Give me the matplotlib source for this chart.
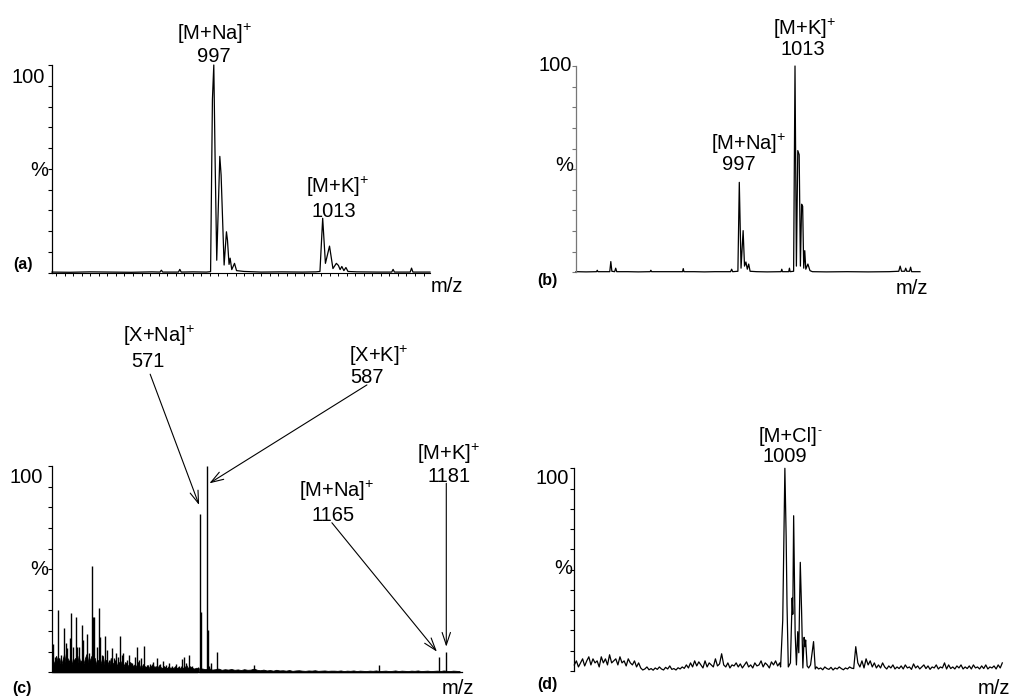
import numpy as np
import matplotlib
matplotlib.use('Agg')
import matplotlib.pyplot as plt

plt.rcParams['font.family'] = ['Liberation Sans', 'DejaVu Sans']
plt.rcParams['mathtext.fontset'] = 'custom'
plt.rcParams['mathtext.rm'] = 'Liberation Sans'
plt.rcParams['mathtext.it'] = 'Liberation Sans:italic'
plt.rcParams['mathtext.bf'] = 'Liberation Sans:bold'

# ---------------- data ----------------
# (a) profile spectrum
a_mz = [973.4, 976, 979, 982, 985, 988, 989.2, 989.4, 989.6, 991.9, 992.1, 992.3, 994, 996.0,
        996.6, 996.87, 997.07, 997.27, 997.5, 997.95, 998.14, 998.58, 998.92, 999.07, 999.3,
        999.46, 999.7, 1000.1, 1000.4, 1001.5, 1004, 1007, 1010, 1012.0, 1012.6, 1013.0, 1013.4,
        1014.0, 1014.5, 1015.0, 1015.3, 1015.55, 1015.8, 1016.1, 1016.4, 1016.7, 1018, 1021,
        1023.1, 1023.3, 1023.5, 1025.8, 1026.0, 1026.2, 1028.7]
a_int = [0.3, 0.2, 0.4, 0.3, 0.2, 0.4, 0.3, 1.2, 0.3, 0.3, 1.6, 0.3, 0.4, 0.3,
         0.5, 83.5, 100, 52.7, 6, 56, 47, 3.7, 19.7, 15.7, 4,
         7, 1.5, 4.5, 1, 0.6, 0.3, 0.4, 0.3, 0.4, 0.6, 26.2, 4.5,
         12.8, 2, 4.5, 3.5, 1.5, 3, 1, 2.5, 0.6, 0.4, 0.3,
         0.3, 1.6, 0.3, 0.3, 2.2, 0.3, 0.3]

# (b) profile spectrum
b_mz = [950.1, 953, 956, 956.2, 956.4, 959.8, 960.1, 960.4, 961.2, 961.5, 961.8, 965, 968,
        971.4, 971.6, 971.8, 975, 978, 980.7, 980.9, 981.1, 984, 987, 990, 994.5, 994.8, 995.1,
        996.6, 997.0, 997.5, 998.1, 998.5, 998.9, 999.3, 999.7, 1000.1, 1002, 1005, 1009.0,
        1009.2, 1009.4, 1011.2, 1011.4, 1011.6, 1012.6, 1013.0, 1013.4, 1013.8, 1014.2,
        1014.55, 1014.9, 1015.2, 1015.5, 1015.8, 1016.1, 1016.7, 1017.3, 1018, 1022, 1028,
        1034, 1040, 1042.8, 1043.2, 1043.6, 1044.5, 1044.8, 1045.1, 1045.9, 1046.2, 1046.5,
        1048.9]
b_int = [0.3, 0.2, 0.3, 1.0, 0.3, 0.3, 5.2, 0.5, 0.3, 2, 0.3, 0.3, 0.2,
         0.3, 1.0, 0.3, 0.3, 0.3, 0.3, 1.8, 0.3, 0.3, 0.2, 0.3, 0.3, 1.5, 0.3,
         0.5, 43.6, 2, 20.2, 3, 5, 1.5, 4, 0.5, 0.3, 0.2, 0.3,
         1.5, 0.3, 0.3, 2, 0.3, 0.5, 100, 3, 59, 57,
         3, 33, 32, 2, 10.5, 1.5, 4, 0.8, 0.3, 0.2, 0.3,
         0.2, 0.3, 0.5, 3, 0.5, 0.5, 2, 0.5, 0.5, 2.5, 0.3,
         0.3]

# (c) stick spectrum: resolved peaks
c_mz = [205.1, 209.2, 217.5, 223.3, 231.6, 235.8, 239.9, 246.6, 249.0, 253.2, 261.5, 264.8,
        269.8, 275.6, 279.8, 289.7, 293.9, 300.5, 303.0, 307.1, 313.0, 317.9, 321.3, 325.4,
        333.7, 338.7, 343.7, 350.3, 356.1, 361.9, 365.2, 370.2, 375.2, 379.4, 387.7, 393.5,
        400.1, 408.4, 413.4, 418.4, 423.3, 430.0, 437.5, 445.8, 454.1, 463.2, 470.7, 479.0,
        484.8, 493.1, 499.7, 509.7, 518.0, 526.3, 529.6, 534.6, 542.9, 549.5, 564.4,
        571, 572.5, 587, 590, 592.7, 597.6, 612.6, 705.5, 1016, 1165, 1181]
c_int = [13.7, 7.6, 30.2, 8.4, 21.3, 14, 11.6, 16.5, 28.6, 12.4, 26.6, 12.4,
         12.4, 22.9, 15.6, 18.6, 9.2, 51.5, 27, 27, 12.4, 31.3, 17.3, 8.4,
         17.6, 10.8, 6, 11.6, 6.8, 9.2, 7.6, 17.7, 8.4, 9.2, 6, 8.4,
         4.4, 7.6, 12.1, 6, 6.8, 12.9, 3.5, 4, 5.2, 6.8, 4, 5.6,
         3.5, 4.7, 3, 4, 3, 6.3, 7.3, 4.4, 8.4, 3, 2.5,
         76.7, 29, 100, 20.5, 3, 4.5, 10, 3.5, 3.5, 7.2, 10]
# (c) dense low-level chemical noise
c_floor1 = [6, 4, 8, 5, 7, 3, 6, 9, 4, 7, 5, 8, 4, 6, 7, 3, 8, 5, 6, 4, 7, 9, 5, 6, 8,
            5, 7, 4, 6, 3, 5, 8, 4, 6, 5, 3, 7, 4, 5, 6, 3, 5, 4, 6, 3, 5, 4, 3, 5, 4,
            3, 4, 2.5, 5, 3, 2, 4, 3, 2.5, 3.5, 2, 3, 4, 2.5, 3, 2, 3.5, 2.5, 2, 3, 2.5, 2, 3, 2, 2.5,
            2, 3, 2, 2.5, 1.8, 3, 2, 2.5, 3.5, 2, 3, 2.5, 2, 1.8, 2.2, 2]
c_floor2 = [2, 1.8, 1.5, 2, 1.3, 1.5, 1.8, 1.2, 1.5, 1.3, 1.6, 1.2, 1.4, 1.1, 1.5, 1.2, 1.3,
            1.8, 1.2, 1, 1.3, 0.9, 1.1, 0.8, 1.2, 0.9, 1, 0.8, 1.1, 0.7, 0.9, 1, 0.8, 0.7, 0.9,
            0.8, 1, 0.7, 0.8, 0.9, 0.7, 0.8,
            0.8, 0.7, 0.9, 0.6, 0.8, 0.7, 0.9, 0.6, 0.8, 0.7, 0.6, 0.8, 0.7, 0.9, 0.6, 0.7, 0.8,
            0.6, 0.7, 0.9, 0.6, 0.8, 0.7, 0.6, 0.8, 0.7, 0.9, 0.6, 0.7, 0.8, 0.6, 0.7, 0.8, 0.6,
            0.9, 0.7, 0.6, 0.8, 0.7, 0.6]

# (d) profile spectrum: noise before, isotope cluster, noise after
d_pre = [3, 5, 2, 4, 6, 2.5, 5, 7, 3, 6, 4, 5, 2, 7, 4, 6, 3, 8, 4, 5, 6, 3, 7, 4, 5, 2.5,
         6, 4, 3, 5, 2, 4,
         1.5, 0.5, 1, 2, 0.6, 1.2, 0.4, 1.5, 0.8, 2, 1, 0.5, 1.8, 1, 2.5, 0.8, 1.2, 0.5, 1.6,
         1, 2, 1.3,
         3, 1.5, 4, 2, 5, 2.5, 4.5, 3, 1.5, 5, 2, 4, 3, 2, 6, 2.5, 3.5, 8.5, 3, 2, 4, 1.5, 3,
         2.5, 4, 2, 3.5, 1.5, 3, 4.5, 2, 3, 1.5, 4, 2.5, 3, 5, 2, 4, 3, 1.5, 4.5, 3, 5, 2.5, 4]
d_peak_mz = [1008.2, 1008.7, 1009.2, 1009.5, 1009.7, 1010.0, 1010.5, 1010.9, 1011.05, 1011.25,
             1011.6, 1011.9, 1012.2, 1012.45, 1012.8, 1013.1, 1013.4, 1013.7, 1013.9, 1014.05,
             1014.4, 1014.75, 1015.2, 1015.9, 1016.3]
d_peak_int = [2, 25, 100, 66, 32.6, 2, 4, 36, 28, 76.6,
              18.6, 3, 19.4, 9, 53.6, 30, 1.5, 16.6, 12, 15.3,
              2.5, 1.5, 3, 14.5, 1]
d_post = [2, 1, 1.5, 0.6, 2, 1.2, 0.8, 1.8, 0.5, 1.5, 1, 2, 1.2, 0.6, 1.5, 1, 2, 1.4, 1.2,
          12, 4,
          2, 5, 1.5, 6, 3, 5, 2, 4, 1.5,
          3, 1.5, 4, 2, 1, 2.5, 1.5, 3, 1, 2, 1.2, 2.5, 1, 3, 1.5, 2, 0.8, 3.5, 1.5, 2.5,
          1, 2, 3, 1.2, 2.5, 0.8, 2, 1.5, 3, 1, 2, 1.5, 4, 1, 3, 1.2, 2, 1, 2.5, 1.5,
          3, 1, 2, 1.2, 2.5, 1, 3, 1.5, 2, 1, 2.5, 1.2, 3, 1, 2, 1.5, 2.5, 1, 3, 1.5, 4]

# annotations: (text, m/z, height in %)
a_labels = [(r'[M+Na]$^{+}$', 997.2, 112), ('997', 997.1, 101.5),
            (r'[M+K]$^{+}$', 1015.2, 38.2), ('1013', 1014.7, 27)]
b_labels = [(r'[M+K]$^{+}$', 1015.7, 115), ('1013', 1015.2, 105.3),
            (r'[M+Na]$^{+}$', 999.6, 59.3), ('997', 997.0, 49.6)]
d_labels = [('1009', 1009.2, 103.3)]
d_anion = ('[M+Cl]', '-', 1009.9, 113.1)
c_labels = [(r'[X+Na]$^{+}$', 468, 160.2), ('571', 441.6, 148.1),
            (r'[X+K]$^{+}$', 1016, 150.6), ('587', 984.4, 140.4),
            (r'[M+Na]$^{+}$', 910.6, 85.1), ('1165', 902.2, 73.5),
            (r'[M+K]$^{+}$', 1188.6, 102.9), ('1181', 1188.6, 92.4)]
# arrows in (c): (start m/z, start %, tip m/z, tip %)
c_arrows = [(446, 144.5, 567.8, 81.1),
            (985.4, 139.3, 593.4, 91.6),
            (898.2, 72.5, 1159.6, 10),
            (1182.9, 91.6, 1182.9, 12.4)]

# ---------------- figure ----------------
W, H = 1013, 697
fig = plt.figure(figsize=(W / 100, H / 100), dpi=100)
FS = 14.5


def add_axes(l, r, t, b):
    return fig.add_axes([l / W, 1 - b / H, (r - l) / W, (b - t) / H])


def style(ax, xlim, color='black', bottom=False, top_va='top', top_dy=-2, pct_dy=-1.5,
          top_dx=-5, pct_dx=-2.5):
    ax.set_xlim(*xlim)
    ax.set_ylim(0, 100)
    ax.patch.set_alpha(0)
    for s in ['top', 'right']:
        ax.spines[s].set_visible(False)
    ax.spines['left'].set_color(color)
    ax.spines['left'].set_linewidth(0.9)
    ax.set_yticks(np.arange(0, 101, 10))
    ax.set_yticklabels([])
    ax.tick_params(axis='y', direction='out', length=3, width=0.8, color=color)
    if bottom:
        ax.spines['bottom'].set_linewidth(0.8)
        ax.set_xticks(np.arange(974, xlim[1], 1.25))
        ax.set_xticklabels([])
        ax.tick_params(axis='x', direction='out', length=2, width=0.7)
    else:
        ax.spines['bottom'].set_visible(False)
        ax.set_xticks([])
    tr = ax.get_yaxis_transform()
    ax.annotate('100', xy=(0, 100), xycoords=tr, xytext=(top_dx, top_dy),
                textcoords='offset points', ha='right', va=top_va, fontsize=FS)
    ax.annotate('%', xy=(0, 50), xycoords=tr, xytext=(pct_dx, pct_dy),
                textcoords='offset points', ha='right', va='center', fontsize=FS)


def put_labels(ax, labels):
    for s, m, h in labels:
        ax.text(m, h, s, ha='center', va='baseline', fontsize=FS, clip_on=False)


# (a)
axa = add_axes(52, 430, 65, 272.7)
style(axa, (973.4, 1028.7), bottom=True)
axa.plot(a_mz, a_int, color='black', lw=0.9, clip_on=False)
put_labels(axa, a_labels)

# (b)
axb = add_axes(576, 920, 66, 272.3)
style(axb, (950.1, 1048.9), color='#777777', top_va='center', top_dy=0.5, pct_dy=2.5,
      top_dx=-3, pct_dx=-2)
axb.plot(b_mz, b_int, color='black', lw=0.9, clip_on=False)
put_labels(axb, b_labels)

# (c)
axc = add_axes(51.7, 462, 466, 672.3)
style(axc, (201, 1222), top_dy=-1.5, pct_dy=-0.3, top_dx=-6, pct_dx=-2.5)
floor1_mz = np.linspace(204, 564, len(c_floor1))
floor2_mz = np.linspace(568, 1216, len(c_floor2))
axc.fill_between(floor1_mz, 0, c_floor1, color='black', lw=0.6, clip_on=False)
axc.fill_between(floor2_mz, 0, c_floor2, color='black', lw=0.6, clip_on=False)
axc.vlines(c_mz, 0, c_int, color='black', lw=1.0, clip_on=False)
axc.plot([201, 1222], [0.3, 0.3], color='black', lw=0.9, clip_on=False)
put_labels(axc, c_labels)
for m0, h0, m1, h1 in c_arrows:
    axc.annotate('', xy=(m1, h1), xytext=(m0, h0), xycoords='data', textcoords='data',
                 annotation_clip=False,
                 arrowprops=dict(arrowstyle='->,head_length=0.9,head_width=0.3',
                                 lw=0.8, color='black', mutation_scale=10,
                                 shrinkA=0, shrinkB=0))

# (d)
axd = add_axes(574.3, 1002.3, 468.3, 671)
style(axd, (960, 1060), top_dy=-0.5, pct_dy=1.0, top_dx=-4, pct_dx=-1.5)
d_mz = np.concatenate([np.linspace(960, 1008.0, len(d_pre)), d_peak_mz,
                       np.linspace(1016.6, 1060, len(d_post))])
d_int = np.concatenate([d_pre, d_peak_int, d_post])
axd.plot(d_mz, d_int, color='black', lw=0.9, clip_on=False)
put_labels(axd, d_labels)
base_txt, sup_txt, m_an, h_an = d_anion
t_an = axd.text(m_an, h_an, base_txt, ha='center', va='baseline', fontsize=FS, clip_on=False)
axd.annotate(sup_txt, xy=(1.0, 1.0), xycoords=t_an, xytext=(0.5, -3),
             textcoords='offset points', ha='left', va='center', fontsize=9)

# panel letters and axis titles


def ftext(x, y, s, **kw):
    fig.text(x / W, 1 - y / H, s, **kw)


for x, y, s in [(13, 264.5, '(a)'), (537, 280.5, '(b)'), (12, 688.5, '(c)'), (537, 684, '(d)')]:
    ftext(x, y, s, ha='left', va='center', fontsize=11.5, fontweight='bold')
for x, y in [(446.5, 286), (911.5, 288.5), (458, 688), (994, 688)]:
    ftext(x, y, 'm/z', ha='center', va='center', fontsize=FS)

fig.savefig('out.png', dpi=100)
